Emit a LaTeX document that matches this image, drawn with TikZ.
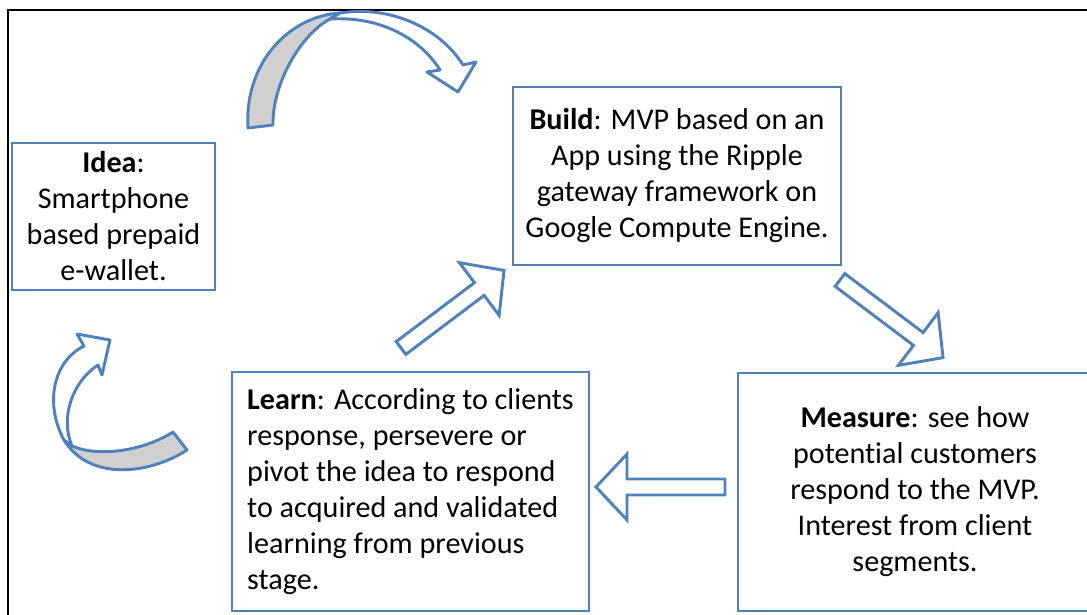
\documentclass[tikz,border=0pt]{standalone}
\usepackage{fontspec}
\setmainfont{Carlito}[Ligatures=NoCommon]
\usetikzlibrary{positioning}
\definecolor{officeblue}{RGB}{79,129,189}
\definecolor{ribbongray}{RGB}{208,208,208}

\begin{document}
\begin{tikzpicture}[x=0.75pt,y=-0.75pt,
	stage/.style={draw=officeblue, line width=2pt, fill=white, inner sep=0pt, font=\fontsize{22.6}{27}\selectfont},
	blockarr/.style={draw=officeblue, line width=2.2pt, fill=white, line join=miter},
	ribbon/.style={draw=officeblue, line width=2.2pt, fill=ribbongray, line join=round}]
			\useasboundingbox (0,0) rectangle (1087,614);
			\clip (0,0) rectangle (1087,614);

			% Outer frame
			\draw[line width=1.3pt] (8,630) -- (8,10) -- (1100,10);

			% The four stages
			\node[stage, minimum width=152.25pt, minimum height=110.25pt, align=center] (idea) at (113.5,216.5)
				{\textbf{Idea}:\\Smartphone\\based prepaid\\e-wallet.};
			\node[stage, minimum width=246pt, minimum height=133.5pt, align=center] (build) at (677,176)
				{\textbf{Build}: MVP based on an\\App using the Ripple\\gateway framework on\\Google Compute Engine.};
			\node[stage, minimum width=265.5pt, minimum height=178.5pt, align=center] (measure) at (915,492)
				{\textbf{Measure}: see how\\potential customers\\respond to the MVP.\\Interest from client\\segments.};
			\node[stage, minimum width=267.75pt, minimum height=179.25pt, align=left] (learn) at (410.5,491.5)
				{\textbf{Learn}: According to clients\\response, persevere or\\pivot the idea to respond\\to acquired and validated\\learning from previous\\stage.};

			% Block arrows between the stages
			\foreach \x/\y/\a in {401/348/37, 840/280/-37, 725/487/180}
				{\begin{scope}[shift={(\x,\y)}, rotate=\a]
					\draw[blockarr] (0,-8) -- (98,-8) -- (98,-33) -- (129,0) -- (98,33) -- (98,8) -- (0,8) -- cycle;
				\end{scope}}

			% Curved arrow from the idea to the build stage
			\draw[ribbon] (248,128) .. controls (244,62) and (290,16) .. (340,13) -- (330,19)
				.. controls (300,35) and (272,85) .. (273,125) -- cycle;
			\draw[ribbon, fill=white] (340,13) .. controls (390,5) and (440,28) .. (463,65) -- (476,62) -- (458,92)
				-- (427,72) -- (440,70) .. controls (420,38) and (380,16) .. (330,19) -- cycle;

			% Curved arrow from the learn stage back to the idea
			\draw[ribbon] (173,432) -- (187,450) .. controls (150,474) and (90,482) .. (64,440) -- (72,446)
				.. controls (100,458) and (145,450) .. (173,432) -- cycle;
			\draw[ribbon, fill=white] (64,440) .. controls (45,405) and (52,362) .. (84,346) -- (77,334) -- (110,340)
				-- (102,375) -- (98,365) .. controls (72,382) and (60,418) .. (72,446) -- cycle;
\end{tikzpicture}
\end{document}
